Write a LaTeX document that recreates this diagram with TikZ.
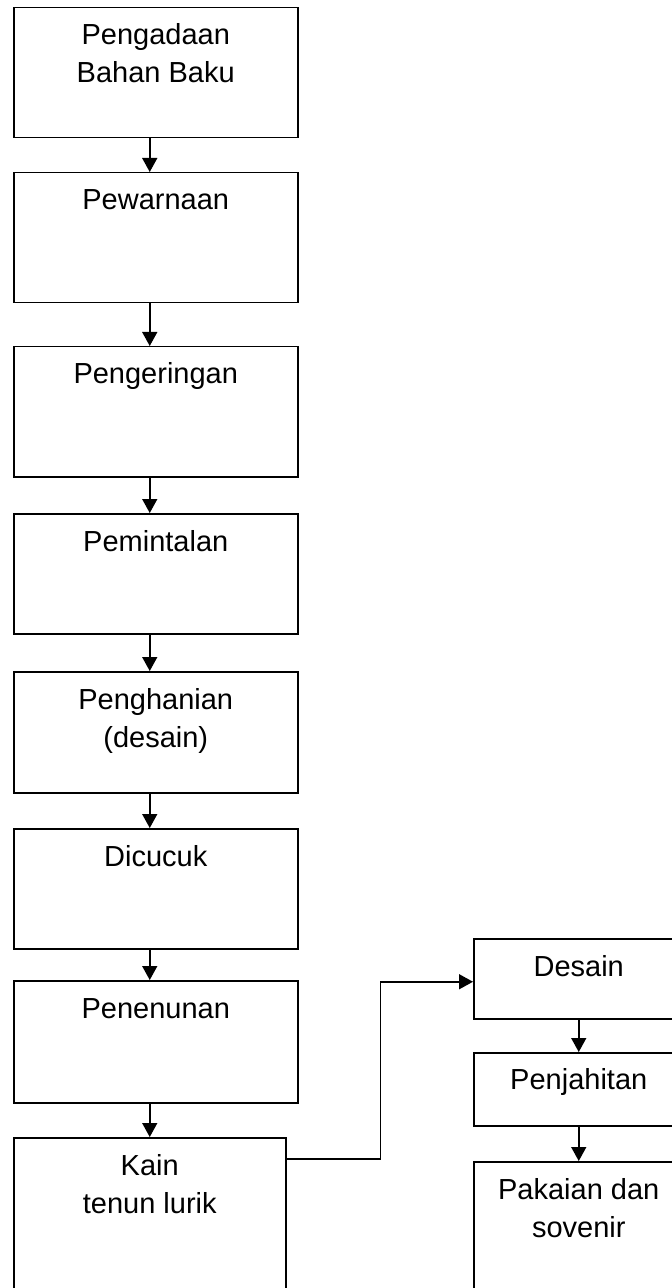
\documentclass[tikz,border=0pt]{standalone}
\usepackage{fontspec}
\setmainfont{Liberation Sans}
\usepackage{tikz}
\usetikzlibrary{arrows.meta}
\usetikzlibrary{positioning}

\tikzset{
  proses/.style={draw, line width=0.75pt, minimum width=142pt, anchor=north west, inner sep=0pt},
  proseskanan/.style={proses, minimum width=105pt},
  tulisan/.style={anchor=base, align=center, inner sep=0pt, font=\fontsize{14.5}{19}\selectfont},
  alur/.style={line width=0.75pt, -{Triangle[length=7pt,width=7.5pt]}}
}

\begin{document}
\begin{tikzpicture}[x=0.5pt,y=-0.5pt]
  \clip (0,0) rectangle (672,1288);
  \node [proses, minimum height=65pt] (bahan) at (13,7) {};
  \node [proses, minimum height=65pt] (warna) at (13,172) {};
  \node [proses, minimum height=65pt] (kering) at (13,346) {};
  \node [proses, minimum height=60pt] (pintal) at (13,513) {};
  \node [proses, minimum height=60.5pt] (hani) at (13,671) {};
  \node [proses, minimum height=60pt] (cucuk) at (13,828) {};
  \node [proses, minimum height=61pt] (tenun) at (13,980) {};
  \node [proses, minimum width=136pt, minimum height=90pt] (kain) at (13,1137) {};
  \node [proseskanan, minimum height=40pt] (desain) at (473,938) {};
  \node [proseskanan, minimum height=36.5pt] (jahit) at (473,1052) {};
  \node [proseskanan, minimum height=80pt] (pakaian) at (473,1161) {};

  \node [tulisan] (tbahan) at ([yshift=-38pt]bahan.north) {Pengadaan\\Bahan Baku};
  \node [tulisan] (twarna) at ([yshift=-19pt]warna.north) {Pewarnaan};
  \node [tulisan] (tkering) at ([yshift=-19pt]kering.north) {Pengeringan};
  \node [tulisan] (tpintal) at ([yshift=-19pt]pintal.north) {Pemintalan};
  \node [tulisan] (thani) at ([yshift=-38pt]hani.north) {Penghanian\\(desain)};
  \node [tulisan] (tcucuk) at ([yshift=-19pt]cucuk.north) {Dicucuk};
  \node [tulisan] (ttenun) at ([yshift=-19pt]tenun.north) {Penenunan};
  \node [tulisan] (tkain) at ([yshift=-38pt]kain.north) {Kain\\tenun lurik};
  \node [tulisan] (tdesain) at ([yshift=-19pt]desain.north) {Desain};
  \node [tulisan] (tjahit) at ([yshift=-18.5pt]jahit.north) {Penjahitan};
  \node [tulisan] (tpakaian) at ([yshift=-38pt]pakaian.north) {Pakaian dan\\sovenir};

  \draw [alur] (bahan.south -| kain.north) -- (warna.north -| kain.north);
  \draw [alur] (warna.south -| kain.north) -- (kering.north -| kain.north);
  \draw [alur] (kering.south -| kain.north) -- (pintal.north -| kain.north);
  \draw [alur] (pintal.south -| kain.north) -- (hani.north -| kain.north);
  \draw [alur] (hani.south -| kain.north) -- (cucuk.north -| kain.north);
  \draw [alur] (cucuk.south -| kain.north) -- (tenun.north -| kain.north);
  \draw [alur] (tenun.south -| kain.north) -- (kain.north);
  \draw [alur] ([yshift=-11pt]kain.north east) -- ++(47pt,0) |- ([yshift=-1.5pt]desain.west);
  \draw [alur] (desain.south) -- (jahit.north);
  \draw [alur] (jahit.south) -- (pakaian.north);
\end{tikzpicture}
\end{document}
